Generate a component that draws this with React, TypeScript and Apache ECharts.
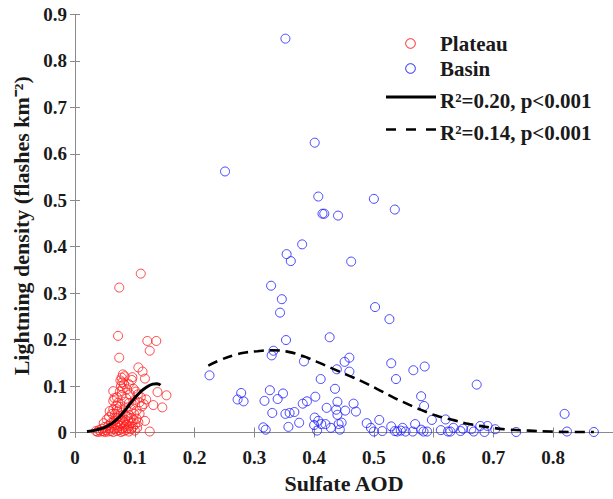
import React, { useEffect, useRef } from "react";
import * as echarts from "echarts";

const plateauPoints: number[][] = [
  [0.110, 0.342], [0.074, 0.312], [0.072, 0.208], [0.074, 0.161], [0.121, 0.197], [0.136, 0.197],
  [0.125, 0.176], [0.106, 0.140], [0.113, 0.131], [0.117, 0.116], [0.096, 0.119], [0.138, 0.087],
  [0.153, 0.080], [0.146, 0.054], [0.131, 0.059], [0.115, 0.061], [0.119, 0.071], [0.117, 0.025],
  [0.125, 0.002], [0.064, 0.089], [0.064, 0.068], [0.064, 0.050],
  [0.080, 0.125], [0.078, 0.118], [0.083, 0.121], [0.076, 0.112], [0.079, 0.108], [0.082, 0.104],
  [0.077, 0.100], [0.080, 0.095], [0.075, 0.088], [0.078, 0.080],
  [0.095, 0.113], [0.090, 0.104], [0.087, 0.093], [0.098, 0.094], [0.102, 0.088], [0.105, 0.082],
  [0.110, 0.076], [0.092, 0.082], [0.086, 0.073], [0.070, 0.076], [0.066, 0.074], [0.100, 0.070],
  [0.108, 0.065], [0.112, 0.056], [0.097, 0.060], [0.090, 0.063], [0.083, 0.066], [0.072, 0.064],
  [0.069, 0.058], [0.075, 0.055], [0.085, 0.052], [0.094, 0.050], [0.103, 0.047], [0.108, 0.040],
  [0.099, 0.040], [0.090, 0.038], [0.080, 0.043], [0.071, 0.045], [0.062, 0.040], [0.058, 0.046],
  [0.035, 0.003], [0.038, 0.001], [0.040, 0.005], [0.043, 0.002], [0.045, 0.008], [0.047, 0.003],
  [0.050, 0.001], [0.050, 0.012], [0.052, 0.005], [0.055, 0.002], [0.056, 0.015], [0.058, 0.008],
  [0.060, 0.003], [0.060, 0.020], [0.062, 0.012], [0.064, 0.001], [0.065, 0.025], [0.066, 0.007],
  [0.068, 0.016], [0.069, 0.030], [0.070, 0.003], [0.071, 0.010], [0.072, 0.022], [0.073, 0.035],
  [0.074, 0.005], [0.075, 0.014], [0.076, 0.028], [0.077, 0.001], [0.078, 0.018], [0.079, 0.008],
  [0.080, 0.032], [0.081, 0.003], [0.082, 0.022], [0.083, 0.012], [0.084, 0.027], [0.085, 0.005],
  [0.086, 0.017], [0.087, 0.035], [0.088, 0.009], [0.089, 0.024], [0.090, 0.002], [0.091, 0.014],
  [0.093, 0.030], [0.094, 0.007], [0.095, 0.020], [0.097, 0.012], [0.098, 0.027], [0.100, 0.004],
  [0.101, 0.018], [0.103, 0.030], [0.104, 0.010], [0.106, 0.022], [0.048, 0.020], [0.053, 0.028],
  [0.057, 0.033], [0.067, 0.040], [0.070, 0.050]
];

const basinPoints: number[][] = [
  [0.352, 0.848], [0.401, 0.624], [0.251, 0.562], [0.407, 0.508], [0.500, 0.503], [0.535, 0.480],
  [0.414, 0.471], [0.417, 0.471], [0.440, 0.467], [0.380, 0.405], [0.354, 0.384], [0.361, 0.369],
  [0.462, 0.368], [0.328, 0.316], [0.346, 0.287], [0.343, 0.258], [0.502, 0.270], [0.526, 0.244],
  [0.426, 0.205], [0.353, 0.199], [0.332, 0.176], [0.329, 0.166], [0.459, 0.161], [0.451, 0.152],
  [0.383, 0.153], [0.529, 0.149], [0.585, 0.142], [0.566, 0.134], [0.438, 0.136], [0.459, 0.131],
  [0.225, 0.123], [0.411, 0.115], [0.537, 0.115], [0.672, 0.103], [0.326, 0.091], [0.435, 0.094],
  [0.278, 0.085], [0.348, 0.084], [0.272, 0.071], [0.282, 0.067], [0.317, 0.068], [0.339, 0.072],
  [0.381, 0.062], [0.388, 0.067], [0.402, 0.077], [0.439, 0.066], [0.466, 0.062], [0.579, 0.078],
  [0.584, 0.057], [0.330, 0.042], [0.352, 0.040], [0.359, 0.042], [0.367, 0.044], [0.421, 0.053],
  [0.437, 0.049], [0.452, 0.047], [0.470, 0.045], [0.439, 0.038], [0.401, 0.032], [0.375, 0.021],
  [0.357, 0.012], [0.315, 0.011], [0.319, 0.006], [0.407, 0.025], [0.412, 0.018], [0.400, 0.016],
  [0.405, 0.004], [0.419, 0.018], [0.428, 0.010], [0.443, 0.006], [0.446, 0.021], [0.441, 0.018],
  [0.488, 0.020], [0.495, 0.010], [0.500, 0.002], [0.509, 0.027], [0.514, 0.003], [0.529, 0.013],
  [0.535, 0.003], [0.539, 0.002], [0.545, 0.004], [0.548, 0.010], [0.553, 0.002], [0.565, 0.002],
  [0.569, 0.018], [0.579, 0.006], [0.583, 0.002], [0.589, 0.002], [0.597, 0.027], [0.612, 0.005],
  [0.620, 0.028], [0.624, 0.002], [0.628, 0.002], [0.633, 0.010], [0.645, 0.003], [0.649, 0.008],
  [0.663, 0.007], [0.667, 0.002], [0.678, 0.014], [0.685, 0.001], [0.690, 0.014], [0.703, 0.007],
  [0.738, 0.001], [0.819, 0.040], [0.823, 0.002], [0.868, 0.001]
];

const plateauFit: number[][] = [
  [0.020, 0.002], [0.030, 0.004], [0.040, 0.007], [0.050, 0.011], [0.060, 0.018], [0.070, 0.028],
  [0.080, 0.042], [0.090, 0.058], [0.100, 0.074], [0.110, 0.088], [0.120, 0.098], [0.130, 0.104],
  [0.137, 0.105], [0.143, 0.102]
];

const basinFit: number[][] = [
  [0.223, 0.144], [0.245, 0.157], [0.265, 0.166], [0.285, 0.172], [0.305, 0.175], [0.330, 0.177],
  [0.355, 0.174], [0.380, 0.165], [0.405, 0.152], [0.430, 0.138], [0.455, 0.124], [0.480, 0.110],
  [0.505, 0.094], [0.530, 0.077], [0.555, 0.062], [0.580, 0.048], [0.605, 0.036], [0.635, 0.026],
  [0.660, 0.018], [0.693, 0.011], [0.726, 0.006], [0.760, 0.004], [0.795, 0.002], [0.830, 0.001],
  [0.868, 0.001]
];

const xTicks: number[] = [0, 0.1, 0.2, 0.3, 0.4, 0.5, 0.6, 0.7, 0.8, 0.9];
const xTickLabels: number[] = [0, 0.1, 0.2, 0.3, 0.4, 0.5, 0.6, 0.7, 0.8];
const yTicks: number[] = [0, 0.1, 0.2, 0.3, 0.4, 0.5, 0.6, 0.7, 0.8, 0.9];

const legendNames = ["Plateau", "Basin", "R\u00B2=0.20, p<0.001", "R\u00B2=0.14, p<0.001"];

const FONT = "Liberation Serif";
const AXIS_COLOR = "#8a8a8a";
const TEXT_COLOR = "#1a1a1a";

export default function App() {
  const ref = useRef<HTMLDivElement>(null);
  useEffect(() => {
    if (!ref.current) return;
    const chart = echarts.init(ref.current, null, { renderer: "svg" });
    const labelStyle = { fontFamily: FONT, fontWeight: "bold", fontSize: 19, color: TEXT_COLOR };
    const legendText = (text: string, y: number) => ({
      type: "text", x: 440, y,
      style: { text, fontFamily: FONT, fontWeight: "bold", fontSize: 21, fill: TEXT_COLOR, verticalAlign: "middle" }
    });
    const option: any = {
      animation: false,
      backgroundColor: "#ffffff",
      textStyle: { fontFamily: FONT },
      grid: { left: 75, top: 14.5, width: 543.5, height: 427.5 },
      xAxis: [
        {
          type: "value", min: 0, max: 0.9, position: "bottom",
          name: "Sulfate AOD", nameLocation: "middle", nameGap: 34,
          nameTextStyle: { fontFamily: FONT, fontWeight: "bold", fontSize: 22, color: TEXT_COLOR },
          axisLine: { show: true, lineStyle: { color: AXIS_COLOR, width: 1 } },
          axisTick: { show: true, inside: true, length: 5, customValues: xTicks, lineStyle: { color: AXIS_COLOR } },
          axisLabel: { ...labelStyle, margin: 11, customValues: xTickLabels, formatter: (v: number) => String(v) },
          splitLine: { show: false }
        },
        {
          type: "value", min: 0, max: 0.9, position: "top",
          axisLine: { show: true, lineStyle: { color: AXIS_COLOR, width: 1 } },
          axisTick: { show: true, inside: true, length: 5, customValues: xTicks, lineStyle: { color: AXIS_COLOR } },
          axisLabel: { show: false },
          splitLine: { show: false }
        }
      ],
      yAxis: [
        {
          type: "value", min: -0.01, max: 0.9, position: "left",
          name: "Lightning density (flashes km\u207B\u00B2)", nameLocation: "middle", nameGap: 36,
          nameTextStyle: { fontFamily: FONT, fontWeight: "bold", fontSize: 22, color: TEXT_COLOR },
          axisLine: { show: true, lineStyle: { color: AXIS_COLOR, width: 1 } },
          axisTick: { show: true, inside: true, length: 5, customValues: yTicks, lineStyle: { color: AXIS_COLOR } },
          axisLabel: { ...labelStyle, margin: 8, customValues: yTicks, formatter: (v: number) => String(v) },
          splitLine: { show: false }
        },
        {
          type: "value", min: -0.01, max: 0.9, position: "right",
          axisLine: { show: true, lineStyle: { color: AXIS_COLOR, width: 1 } },
          axisTick: { show: true, inside: true, length: 5, customValues: yTicks, lineStyle: { color: AXIS_COLOR } },
          axisLabel: { show: false },
          splitLine: { show: false }
        }
      ],
      series: [
        {
          name: legendNames[0], type: "scatter", data: plateauPoints, symbol: "circle", symbolSize: 9,
          clip: false,
          itemStyle: { color: "rgba(0,0,0,0)", borderColor: "#ff1a1a", borderWidth: 1 }
        },
        {
          name: legendNames[1], type: "scatter", data: basinPoints, symbol: "circle", symbolSize: 9,
          clip: false,
          itemStyle: { color: "rgba(0,0,0,0)", borderColor: "#1a1aff", borderWidth: 1 }
        },
        {
          name: legendNames[2], type: "line", data: plateauFit, showSymbol: false, symbol: "none", smooth: true,
          lineStyle: { color: "#000000", width: 3 }, z: 5
        },
        {
          name: legendNames[3], type: "line", data: basinFit, showSymbol: false, symbol: "none", smooth: true,
          lineStyle: { color: "#000000", width: 2.6, type: [10, 6] }, z: 5
        }
      ],
      graphic: [
        { type: "circle", shape: { cx: 410.5, cy: 43.5, r: 4.8 }, style: { fill: "none", stroke: "#ff1a1a", lineWidth: 1 } },
        { type: "circle", shape: { cx: 410.5, cy: 68.5, r: 4.8 }, style: { fill: "none", stroke: "#1a1aff", lineWidth: 1 } },
        { type: "line", shape: { x1: 386, y1: 97, x2: 436, y2: 97 }, style: { stroke: "#000", lineWidth: 3 } },
        { type: "line", shape: { x1: 386, y1: 129.5, x2: 436, y2: 129.5 }, style: { stroke: "#000", lineWidth: 2.6, lineDash: [10, 10] } },
        legendText(legendNames[0], 44),
        legendText(legendNames[1], 69),
        legendText(legendNames[2], 101),
        legendText(legendNames[3], 133)
      ]
    };
    chart.setOption(option);
    return () => chart.dispose();
  }, []);
  return (
    <div
      ref={ref}
      style={{ position: "fixed", left: 0, top: 0, width: 613, height: 499, overflow: "hidden", background: "#fff" }}
    />
  );
}
